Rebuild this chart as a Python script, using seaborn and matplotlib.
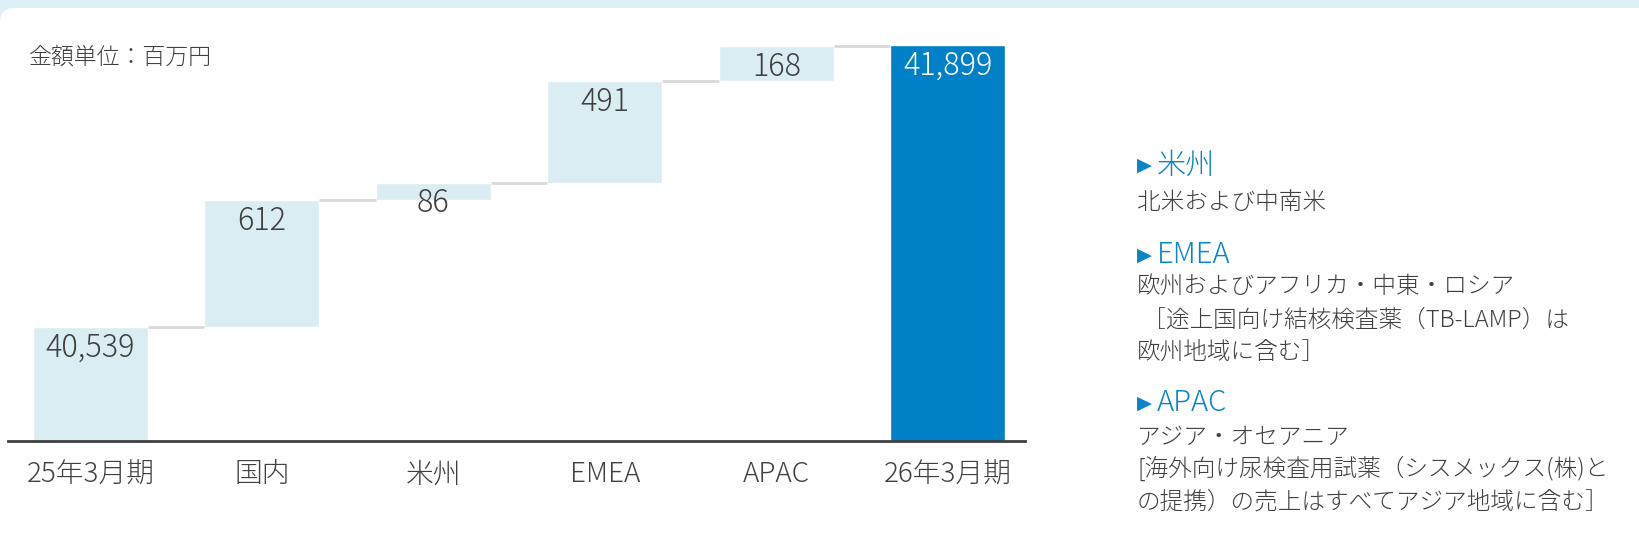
import numpy as np
import pandas as pd
import seaborn as sns
import matplotlib.pyplot as plt
from matplotlib.patches import FancyBboxPatch

# === data ===
categories = ["25年3月期", "国内", "米州", "EMEA", "APAC", "26年3月期"]
values = [40539, 612, 86, 491, 168, 41899]
value_labels = ["40,539", "612", "86", "491", "168", "41,899"]
is_total = [True, False, False, False, False, True]

# waterfall bottoms
bottoms = []
running = 0
for v, tot in zip(values, is_total):
    if tot:
        bottoms.append(0)
        running = v
    else:
        bottoms.append(running)
        running += v
tops = [b + v for b, v in zip(bottoms, values)]

df = pd.DataFrame({"cat": categories, "val": values, "bottom": bottoms})

# === style ===
sns.set_theme(style="white")
plt.rcParams["font.family"] = ["Noto Sans CJK JP", "DejaVu Sans"]
plt.rcParams["font.weight"] = "light"

LIGHT = "#daedf3"
DARK = "#0080c6"
TEXT = "#404040"
LINE = "#d9d9d9"

W, H = 1639, 556
fig = plt.figure(figsize=(W / 100, H / 100), dpi=100)
fig.patch.set_facecolor("#dcf0f5")

# card background
card = FancyBboxPatch((0, -30), W + 40, H - 8 + 30, boxstyle="round,pad=0,rounding_size=14",
                      transform=None, facecolor="white", edgecolor="none", zorder=-10)
fig.add_artist(card)

ax = fig.add_axes([8 / W, 115 / H, (1025 - 8) / W, (441 - 20) / H])
ax.set_facecolor("none")

bar_w = 0.67
sns.barplot(data=df, x="cat", y="val", bottom=df["bottom"], color=LIGHT,
            saturation=1, width=bar_w, ax=ax)
ax.patches[-1].set_facecolor(DARK)

ax.set_ylim(39990, 42021)
ax.set_xlim(-0.48, 5.45)

# connectors
for i in range(len(values) - 1):
    ax.hlines(tops[i], i + bar_w / 2, i + 1 - bar_w / 2, color=LINE, lw=2, zorder=1)

# value labels
for i, (t, lab) in enumerate(zip(tops, value_labels)):
    c = "white" if i == len(values) - 1 else TEXT
    ax.annotate(lab, (i, t), xytext=(0, -15), textcoords="offset points",
                ha="center", va="center", fontsize=22, color=c)

for s in ["top", "right", "left"]:
    ax.spines[s].set_visible(False)
ax.spines["bottom"].set_color(TEXT)
ax.spines["bottom"].set_linewidth(2)
ax.set_yticks([])
ax.set_xlabel("")
ax.set_ylabel("")
ax.tick_params(axis="x", length=0, pad=14, labelsize=20, labelcolor=TEXT)

fig.text(29 / W, 1 - 57 / H, "金額単位：百万円", fontsize=16.5, color=TEXT, va="center")

# right-hand notes
BLUE = "#0a84c8"
headers = [("米州", 165), ("EMEA", 255), ("APAC", 403)]
for txt, y in headers:
    fig.text(1137 / W, 1 - y / H, "▶", fontsize=14, color=BLUE, va="center",
             family=["DejaVu Sans"], fontweight="normal")
    fig.text(1157 / W, 1 - y / H, txt, fontsize=21, color=BLUE, va="center")

body = [
    ("北米および中南米", 202),
    ("欧州およびアフリカ・中東・ロシア", 286),
    (" ［途上国向け結核検査薬（TB-LAMP）は", 320),
    ("欧州地域に含む］", 352),
    ("アジア・オセアニア", 438),
    ("[海外向け尿検査用試薬（シスメックス(株)と", 469),
    ("の提携）の売上はすべてアジア地域に含む］", 502),
]
for txt, y in body:
    fig.text(1137 / W, 1 - y / H, txt, fontsize=17, color=TEXT, va="center")

plt.savefig("out.png", dpi=100, facecolor=fig.get_facecolor())
